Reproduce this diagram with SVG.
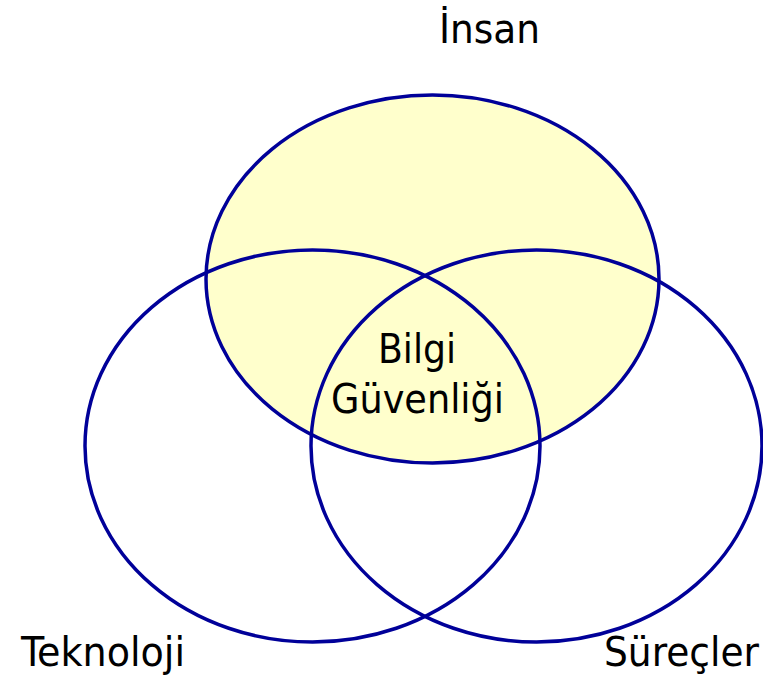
<svg xmlns="http://www.w3.org/2000/svg" width="763" height="676" viewBox="0 0 763 676">
<style>
.c{stroke:#000099;stroke-width:3.5;fill:none}
.t{font-family:"DejaVu Sans Condensed","DejaVu Sans","Liberation Sans",sans-serif;font-size:41px;fill:#000}
</style>
<rect width="763" height="676" fill="#fff"/>
<g id="insan">
<ellipse class="c" cx="432.5" cy="279" rx="226.5" ry="184" style="fill:#FFFFCC"/>
</g>
<g id="teknoloji">
<ellipse class="c" cx="312.5" cy="446" rx="227.5" ry="196"/>
</g>
<g id="surecler">
<ellipse class="c" cx="536.5" cy="446" rx="225.5" ry="196"/>
</g>
<g id="labels">
<text class="t" x="439" y="43" textLength="101" lengthAdjust="spacingAndGlyphs">İnsan</text>
<text class="t" x="21" y="666" textLength="164" lengthAdjust="spacingAndGlyphs">Teknoloji</text>
<text class="t" x="604" y="666" textLength="155" lengthAdjust="spacingAndGlyphs">Süreçler</text>
<text class="t" x="378" y="363" textLength="78" lengthAdjust="spacingAndGlyphs">Bilgi</text>
<text class="t" x="331" y="413" textLength="173" lengthAdjust="spacingAndGlyphs">Güvenliği</text>
</g>
</svg>
